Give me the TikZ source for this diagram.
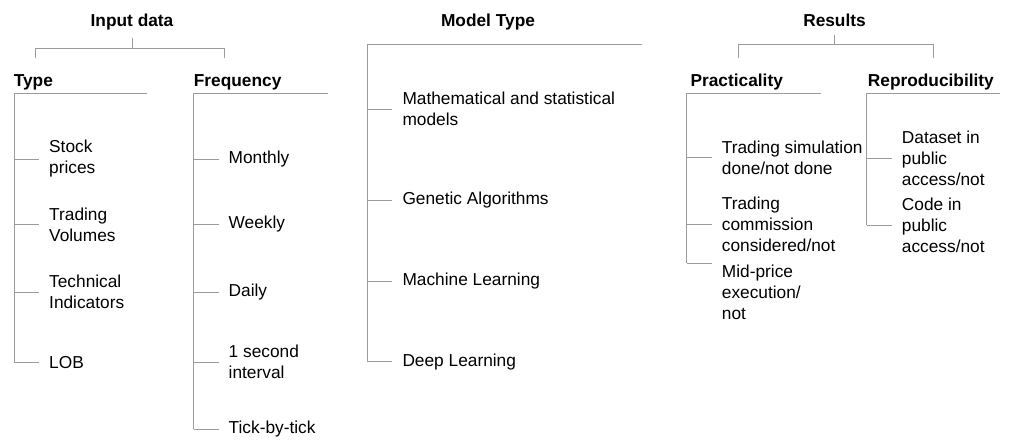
\documentclass[tikz,border=0pt]{standalone}
\usepackage{fontspec}
\setmainfont{Liberation Sans}
\usetikzlibrary{positioning}
\definecolor{linegray}{RGB}{155,155,155}
\tikzset{titlenode/.style={anchor=base, inner sep=0pt, font=\fontsize{17.3}{21}\selectfont\bfseries},
headnode/.style={anchor=base west, inner sep=0pt, font=\fontsize{17.3}{21}\selectfont\bfseries},
itemnode/.style={anchor=west, inner sep=0pt, align=left, font=\fontsize{17.3}{21}\selectfont}}

\begin{document}
\begin{tikzpicture}[
                x=1pt, y=-1pt,
                treeline/.style={draw=linegray, line width=0.9pt}
            ]
                \useasboundingbox (0,0) rectangle (1011,443);

                % Titles
                \node[titlenode] (input) at (132,27) {Input data};
                \node[titlenode] (model) at (488,27) {Model Type};
                \node[titlenode] (results) at (834.5,27) {Results};

                % Brackets
                \coordinate (inputl) at (35,58);
                \coordinate (inputr) at (224.5,58);
                \draw[treeline] ([yshift=-7.5pt]input.south) -- ++(0,10) coordinate (inputjoin);
                \draw[treeline] (inputl) |- (inputjoin) -| (inputr);

                \coordinate (resultsl) at (738,58);
                \coordinate (resultsr) at (933,58);
                \draw[treeline] ([yshift=-7.5pt]results.south) -- ++(0,10) coordinate (resultsjoin);
                \draw[treeline] (resultsl) |- (resultsjoin) -| (resultsr);

                % Headings
                \node[headnode] (type) at (13.6,87) {Type};
                \node[headnode] (freq) at (193.7,87) {Frequency};
                \node[headnode] (pract) at (690.4,87) {Practicality};
                \node[headnode] (repro) at (867.7,87) {Reproducibility};

                \coordinate (typetop) at (14,93);
                \coordinate (typeend) at (147,93);
                \coordinate (freqtop) at (193.5,93);
                \coordinate (freqend) at (328,93);
                \coordinate (modeltop) at (367.3,44.3);
                \coordinate (modelend) at (642,44.3);
                \coordinate (practtop) at (686.7,93);
                \coordinate (practend) at (821,93);
                \coordinate (reprotop) at (866.7,93);
                \coordinate (reproend) at (1000,93);

                % Items
                \foreach \nm/\yy/\txt in {stock/159/{Stock\\prices}, volumes/224.5/{Trading\\Volumes}, techind/292.3/{Technical\\Indicators}, lob/362.3/LOB} {
\coordinate (\nm-b) at (14,\yy);
\node[itemnode, right=35pt of \nm-b] (\nm) {\txt};
\draw[treeline] (\nm-b) -- ([xshift=-10pt]\nm.west);
}
                \foreach \nm/\yy/\txt in {monthly/159/Monthly, weekly/224.5/Weekly, daily/292.3/Daily, second/362.3/{1 second\\interval}, tick/429.3/Tick-by-tick} {
\coordinate (\nm-b) at (193.5,\yy);
\node[itemnode, right=35pt of \nm-b] (\nm) {\txt};
\draw[treeline] (\nm-b) -- ([xshift=-10pt]\nm.west);
}
                \foreach \nm/\yy/\txt in {mathstat/109.3/{Mathematical and statistical\\models}, genetic/200.3/Genetic Algorithms, machine/281.5/Machine Learning, deep/361.7/Deep Learning} {
\coordinate (\nm-b) at (367.3,\yy);
\node[itemnode, right=35pt of \nm-b] (\nm) {\txt};
\draw[treeline] (\nm-b) -- ([xshift=-10pt]\nm.west);
}
                % mid-price text hangs below its branch
                \foreach \nm/\yy/\dy/\txt in {simul/157.5/0/{Trading simulation\\done/not done}, commis/224.8/0/{Trading\\commission\\considered/not}, midprice/263/-29/{Mid-price\\execution/\\not}} {
\coordinate (\nm-b) at (686.7,\yy);
\node[itemnode, right=35pt of \nm-b, yshift=\dy pt] (\nm) {\txt};
\draw[treeline] (\nm-b) -- ++(25,0) coordinate (\nm-e);
}
                \foreach \nm/\yy/\txt in {dataset/158.5/{Dataset in\\public\\access/not}, code/225.5/{Code in\\public\\access/not}} {
\coordinate (\nm-b) at (866.7,\yy);
\node[itemnode, right=35pt of \nm-b] (\nm) {\txt};
\draw[treeline] (\nm-b) -- ([xshift=-10pt]\nm.west);
}

                % Spines
                \draw[treeline] (typeend) -- (typetop) -- (lob-b);
                \draw[treeline] (freqend) -- (freqtop) -- (tick-b);
                \draw[treeline] (modelend) -- (modeltop) -- (deep-b);
                \draw[treeline] (practend) -- (practtop) -- (midprice-b);
                \draw[treeline] (reproend) -- (reprotop) -- (code-b);
            \end{tikzpicture}
\end{document}
